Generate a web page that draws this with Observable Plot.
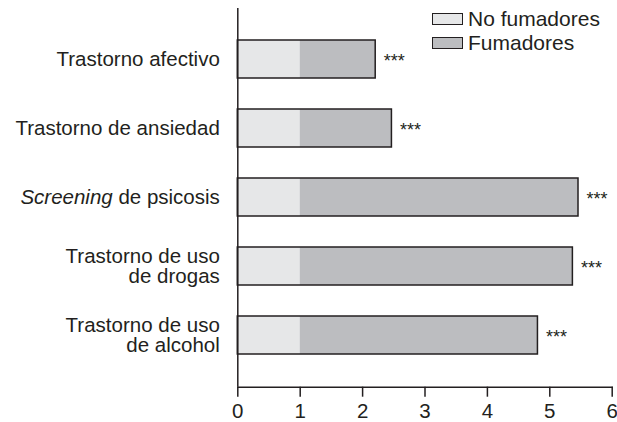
<!DOCTYPE html>
<html><head><meta charset="utf-8">
<script src="https://cdn.jsdelivr.net/npm/d3@7"></script>
<script src="https://cdn.jsdelivr.net/npm/@observablehq/plot@0.6"></script>
<style>
body{margin:0;background:#fff;font-family:"Liberation Sans",Arial,Helvetica,sans-serif;}
#wrap{position:relative;width:617px;height:422px;overflow:hidden;}
.legend{position:absolute;left:432px;top:7px;font-size:21px;color:#231f20;line-height:24px;}
.row{display:flex;align-items:center;height:24px;}
.box{width:29px;height:10px;border:1.5px solid #231f20;margin-right:5px;}
</style></head><body><div id="wrap"></div>
<script>
const categories = ["Trastorno afectivo","Trastorno de ansiedad","Screening de psicosis","Trastorno de uso\nde drogas","Trastorno de uso\nde alcohol"];
const noFumadores = [1,1,1,1,1];
const fumadores = [2.21,2.47,5.46,5.37,4.81];
const significance = ["***","***","***","***","***"];
const xTicks = [0,1,2,3,4,5,6];
const seriesNames = ["No fumadores","Fumadores"];
const colors = ["#e6e7e8","#bcbdc0"];
const ink = "#231f20";

const data = categories.map((c,i)=>({cat:c, nf:noFumadores[i], f:fumadores[i], sig:significance[i]}));

const chart = Plot.plot({
  width:617, height:422,
  marginLeft:237.3, marginRight:5.3, marginTop:8, marginBottom:35.3,
  style:{fontFamily:'"Liberation Sans",Arial,sans-serif', color:ink, background:"#fff", overflow:"visible"},
  x:{domain:[0,6]},
  y:{domain:categories, paddingInner:0.45, paddingOuter:0.46},
  marks:[
    Plot.barX(data,{y:"cat", x1:0, x2:"nf", fill:colors[0]}),
    Plot.barX(data,{y:"cat", x1:"nf", x2:"f", fill:colors[1]}),
    Plot.barX(data,{y:"cat", x1:0, x2:"f", fill:"none", stroke:ink, strokeWidth:1.5}),
    Plot.text(data,{y:"cat", x:"f", text:"sig", textAnchor:"start", dx:8, dy:2, fontSize:18, fill:ink}),
    Plot.axisY({tickSize:0, tickPadding:18, fontSize:20.5, label:null, fill:ink}),
    Plot.ruleX([0],{stroke:ink, strokeWidth:1.5}),
    Plot.frame({anchor:"bottom", stroke:ink, strokeWidth:1.5}),
    Plot.axisX({ticks:xTicks, tickFormat:d3.format("d"), tickSize:10, tickPadding:6, fontSize:20.5, label:null, stroke:ink, strokeWidth:1.5, fill:ink})
  ]
});

// italic "Screening"
d3.select(chart).selectAll("text").each(function(){
  const t = d3.select(this);
  if (t.text() === "Screening de psicosis" && this.children.length === 0) {
    t.text(null);
    t.append("tspan").attr("font-style","italic").text("Screening");
    t.append("tspan").text(" de psicosis");
  }
});

const wrap = document.getElementById("wrap");
wrap.appendChild(chart);
const leg = document.createElement("div");
leg.className = "legend";
seriesNames.forEach((n,i)=>{
  const r = document.createElement("div"); r.className="row";
  const b = document.createElement("div"); b.className="box"; b.style.background=colors[i];
  const s = document.createElement("span"); s.textContent=n;
  r.appendChild(b); r.appendChild(s); leg.appendChild(r);
});
wrap.appendChild(leg);
</script></body></html>
